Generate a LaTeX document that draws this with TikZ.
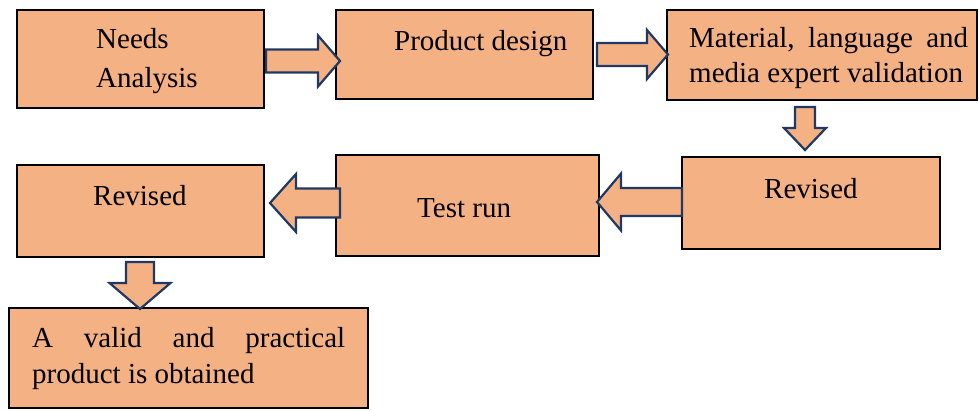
\documentclass[tikz,border=0pt]{standalone}
\usepackage{fontspec}
\setmainfont{Liberation Serif}
\usetikzlibrary{calc}

\definecolor{boxfill}{HTML}{F4B183}
\definecolor{arrowline}{HTML}{1F3864}

% horizontal block arrow: #1 start, #2 tip, #3 shaft half width, #4 head half width, #5 signed head length
\newcommand{\hblock}[5]{%
  \draw[blockarrow] let \p1=(#1), \p2=(#2) in
    ({\x1},{\y2+#3}) -- ({\x2-(#5)},{\y2+#3}) -- ({\x2-(#5)},{\y2+#4}) -- (\x2,\y2) --
    ({\x2-(#5)},{\y2-#4}) -- ({\x2-(#5)},{\y2-#3}) -- ({\x1},{\y2-#3}) -- cycle;}
% downward block arrow: #1 start, #2 tip, #3 shaft half width, #4 head half width, #5 head length
\newcommand{\vblock}[5]{%
  \draw[blockarrow] let \p1=(#1), \p2=(#2) in
    ({\x2-#3},{\y1}) -- ({\x2-#3},{\y2+#5}) -- ({\x2-#4},{\y2+#5}) -- (\x2,\y2) --
    ({\x2+#4},{\y2+#5}) -- ({\x2+#3},{\y2+#5}) -- ({\x2+#3},{\y1}) -- cycle;}

\begin{document}
\begin{tikzpicture}[x=1pt,y=-1pt,
  stagebox/.style={draw=black,line width=1.9pt,fill=boxfill,rectangle,inner sep=0pt,outer sep=0pt},
  blockarrow/.style={draw=arrowline,line width=2.2pt,fill=boxfill,line join=miter},
  txt/.style={anchor=base west,inner sep=0pt,font=\fontsize{29}{35}\selectfont}]
\useasboundingbox (0,0) rectangle (979,410);

% stage boxes
\node[stagebox,minimum width=247pt,minimum height=98pt]  (b1) at (140.5,59)  {};
\node[stagebox,minimum width=257pt,minimum height=89pt]  (b2) at (464.5,54.5) {};
\node[stagebox,minimum width=310pt,minimum height=90pt]  (b3) at (822,55)    {};
\node[stagebox,minimum width=258pt,minimum height=92pt]  (b4) at (811,203)   {};
\node[stagebox,minimum width=263pt,minimum height=101pt] (b5) at (467.5,205.5) {};
\node[stagebox,minimum width=247pt,minimum height=92pt]  (b6) at (140.5,211) {};
\node[stagebox,minimum width=359pt,minimum height=100pt] (b7) at (188.5,358) {};

% box texts
\node[txt] (t1a) at (96,48) {Needs};
\node[txt] (t1b) at (96,87) {Analysis};
\node[txt] (t2)  at (394,50) {Product design};
\node[txt] (t3a) at (689,47) {\hbox to 279pt{Material,\hfill language\hfill and}};
\node[txt] (t3b) at (689,82) {media expert validation};
\node[txt] (t4)  at (764,198) {Revised};
\node[txt] (t5)  at (417,217) {Test run};
\node[txt] (t6)  at (93,205) {Revised};
\node[txt] (t7a) at (32,347) {\hbox to 313pt{A\hfill valid\hfill and\hfill practical}};
\node[txt] (t7b) at (32,383) {product is obtained};

% end points of the block arrows
\coordinate (a1s) at ($(b1.east |- 0,61)+(2,0)$);
\coordinate (a1t) at ($(b2.west |- 0,61)+(4,0)$);
\coordinate (a2s) at ($(b2.east |- 0,54.5)+(4,0)$);
\coordinate (a2t) at ($(b3.west |- 0,54.5)+(1,0)$);
\coordinate (a3s) at ($(b3.south -| 805,0)+(0,7)$);
\coordinate (a3t) at ($(b4.north -| 805,0)+(0,-7)$);
\coordinate (a4s) at (b4.west |- 0,202);
\coordinate (a4t) at ($(b5.east |- 0,202)+(-2,0)$);
\coordinate (a5s) at ($(b5.west |- 0,203)+(4,0)$);
\coordinate (a5t) at ($(b6.east |- 0,203)+(6,0)$);
\coordinate (a6s) at ($(b6.south -| 140,0)+(0,5)$);
\coordinate (a6t) at ($(b7.north -| 140,0)+(0,1)$);

% block arrows
\hblock{a1s}{a1t}{11.5}{25.5}{22}
\hblock{a2s}{a2t}{11.5}{24.5}{21}
\vblock{a3s}{a3t}{10}{21}{22}
\hblock{a4s}{a4t}{14}{28.5}{-24}
\hblock{a5s}{a5t}{14.5}{29}{-26}
\vblock{a6s}{a6t}{14}{30.5}{26}
\end{tikzpicture}
\end{document}
